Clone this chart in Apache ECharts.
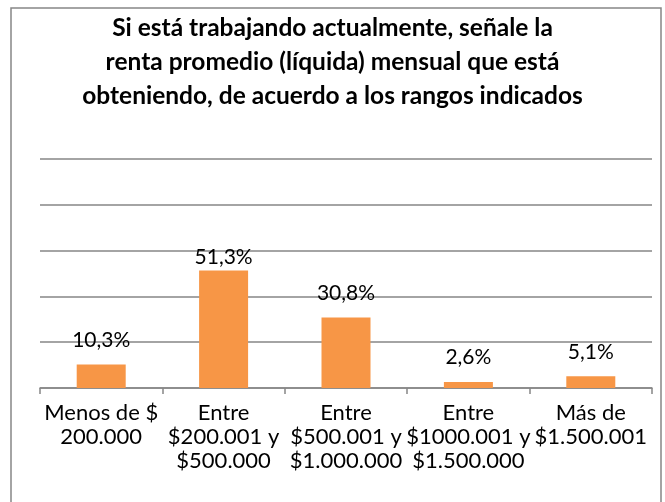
<!DOCTYPE html>
<html>
<head>
<meta charset="utf-8">
<script src="https://cdn.jsdelivr.net/npm/echarts@6/dist/echarts.min.js"></script>
<style>
html,body{margin:0;padding:0;background:#fff;}
#chart{width:665px;height:502px;}
</style>
</head>
<body>
<div id="chart"></div>
<script>
const titleText = 'Si está trabajando actualmente, señale la\nrenta promedio (líquida) mensual que está\nobteniendo, de acuerdo a los rangos indicados';
const categories = [
  'Menos de $\n200.000',
  'Entre\n$200.001 y\n$500.000',
  'Entre\n$500.001 y\n$1.000.000',
  'Entre\n$1000.001 y\n$1.500.000',
  'Más de\n$1.500.001'
];
const values = [10.3, 51.3, 30.8, 2.6, 5.1];
const valueLabels = ['10,3%', '51,3%', '30,8%', '2,6%', '5,1%'];
const labelDistances = [14, 3, 14, 14, 14];

const FONT = 'Lato';
const chart = echarts.init(document.getElementById('chart'), null, {renderer: 'canvas'});
chart.setOption({
  animation: false,
  backgroundColor: '#ffffff',
  title: {
    text: titleText,
    left: 'center',
    top: 6,
    textStyle: {fontFamily: FONT, fontWeight: 'bold', fontSize: 24.5, lineHeight: 34, color: '#000'}
  },
  graphic: [{
    type: 'rect',
    shape: {x: 11, y: 8, width: 650, height: 510},
    style: {fill: 'none', stroke: '#868686', lineWidth: 1.5},
    silent: true
  }],
  grid: {left: 40, right: 13, top: 159, bottom: 114, containLabel: false},
  xAxis: {
    type: 'category',
    data: categories,
    axisLine: {lineStyle: {color: '#868686', width: 1.5}},
    axisTick: {show: true, alignWithLabel: false, length: 6, lineStyle: {color: '#868686', width: 1.5}},
    axisLabel: {interval: 0, margin: 13, fontFamily: FONT, fontSize: 22, lineHeight: 24, color: '#000', hideOverlap: false}
  },
  yAxis: {
    type: 'value',
    min: 0, max: 100, interval: 20,
    axisLabel: {show: false},
    axisLine: {show: false},
    axisTick: {show: false},
    splitLine: {lineStyle: {color: '#868686', width: 1.5}}
  },
  series: [{
    type: 'bar',
    barWidth: 49,
    data: values.map((v, i) => ({
      value: v,
      label: {distance: labelDistances[i]}
    })),
    itemStyle: {color: '#F79646'},
    label: {
      show: true,
      position: 'top',
      fontFamily: FONT,
      fontSize: 21,
      color: '#000',
      formatter: p => valueLabels[p.dataIndex]
    }
  }]
});
</script>
</body>
</html>
